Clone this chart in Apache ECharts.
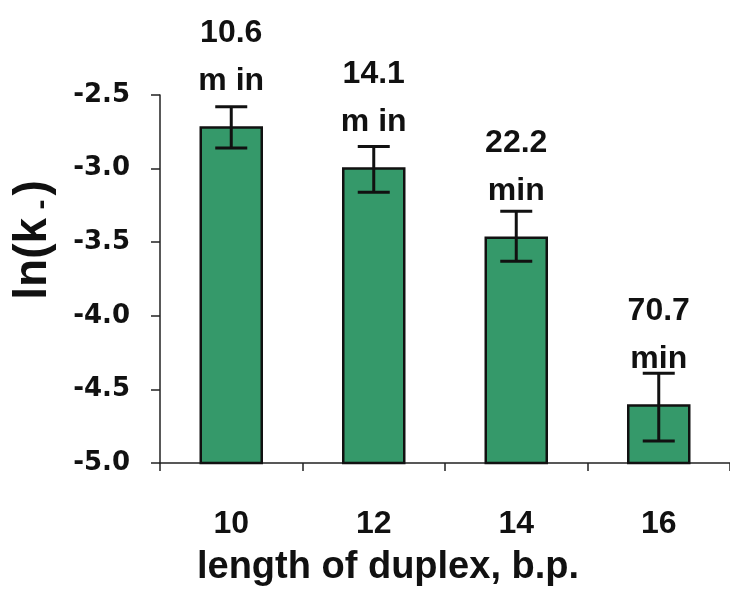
<!DOCTYPE html>
<html>
<head>
<meta charset="utf-8">
<script src="https://cdn.jsdelivr.net/npm/echarts@6/dist/echarts.min.js"></script>
<style>html,body{margin:0;padding:0;background:#fff}#c{width:730px;height:590px}</style>
</head>
<body>
<div id="c"></div>
<script>
var categories = ['10', '12', '14', '16'];
var values = [-2.72, -3.00, -3.47, -4.61];
var errHigh = [-2.58, -2.85, -3.29, -4.39];
var errLow = [-2.86, -3.16, -3.63, -4.85];
var timeLabels = ['10.6', '14.1', '22.2', '70.7'];
var unitLabels = ['m in', 'm in', 'min', 'min'];
var yTicks = [-5.0, -4.5, -4.0, -3.5, -3.0, -2.5];
var yMin = yTicks[0], yMax = yTicks[yTicks.length - 1];

var chart = echarts.init(document.getElementById('c'), null, {renderer: 'canvas'});
var barData = categories.map(function (c, i) { return [i, values[i]]; });
var errData = categories.map(function (c, i) { return [i, errLow[i], errHigh[i]]; });

chart.setOption({
  animation: false,
  backgroundColor: '#fff',
  grid: {left: 160, top: 95, width: 580, height: 368, containLabel: false},
  xAxis: {
    type: 'category',
    data: categories,
    boundaryGap: true,
    axisLine: {lineStyle: {color: '#222', width: 1.5}},
    axisTick: {show: true, length: 8, alignWithLabel: false, lineStyle: {color: '#222', width: 1.5}},
    axisLabel: {margin: 45, fontFamily: 'Liberation Sans', fontWeight: 'bold', fontSize: 32, color: '#111'}
  },
  yAxis: {
    type: 'value',
    min: yMin, max: yMax, interval: 0.5,
    splitLine: {show: false},
    axisLine: {show: true, lineStyle: {color: '#222', width: 1.5}},
    axisTick: {show: true, length: 9, lineStyle: {color: '#222', width: 1.5}},
    axisLabel: {margin: 30, fontFamily: 'DejaVu Sans', fontWeight: 'bold', fontSize: 26, color: '#111',
      formatter: function (v) { return v.toFixed(1); }}
  },
  graphic: [
    {type: 'text', x: 388, y: 568, style: {text: 'length of duplex, b.p.', fontFamily: 'Liberation Sans', fontWeight: 'bold', fontSize: 38, fill: '#111', textAlign: 'center', textVerticalAlign: 'middle'}},
    {type: 'text', x: 33, y: 240, rotation: Math.PI / 2, style: {
      text: '{a|ln(k}{b| -}{a|)}', textAlign: 'center', textVerticalAlign: 'middle', fill: '#111',
      rich: {
        a: {fontFamily: 'Liberation Sans', fontWeight: 'bold', fontSize: 46, fill: '#111'},
        b: {fontFamily: 'Liberation Sans', fontWeight: 'bold', fontSize: 30, fill: '#111', padding: [18, 4, 0, 0]}
      }}}
  ],
  series: [
    {
      type: 'custom',
      data: barData,
      z: 2,
      renderItem: function (params, api) {
        var i = api.value(0);
        var top = api.coord([i, api.value(1)]);
        var base = api.coord([i, yMin]);
        var w = 61;
        return {
          type: 'rect',
          shape: {x: top[0] - w / 2, y: top[1], width: w, height: base[1] - top[1]},
          style: {fill: '#35996a', stroke: '#111', lineWidth: 2.5},
          textContent: {
            type: 'text',
            style: {
              text: '{a|' + timeLabels[params.dataIndex] + '}\n{a|' + unitLabels[params.dataIndex] + '}',
              align: 'center',
              rich: {a: {fontFamily: 'Liberation Sans', fontWeight: 'bold', fontSize: 32, lineHeight: 48, fill: '#111', align: 'center'}}
            }
          },
          textConfig: {position: 'top', distance: 21}
        };
      }
    },
    {
      type: 'custom',
      data: errData,
      z: 5,
      renderItem: function (params, api) {
        var x = api.value(0);
        var lo = api.coord([x, api.value(1)]);
        var hi = api.coord([x, api.value(2)]);
        var hw = 16;
        var st = {stroke: '#111', lineWidth: 3};
        return {type: 'group', children: [
          {type: 'line', shape: {x1: lo[0], y1: lo[1], x2: hi[0], y2: hi[1]}, style: st},
          {type: 'line', shape: {x1: lo[0] - hw, y1: lo[1], x2: lo[0] + hw, y2: lo[1]}, style: st},
          {type: 'line', shape: {x1: hi[0] - hw, y1: hi[1], x2: hi[0] + hw, y2: hi[1]}, style: st}
        ]};
      }
    }
  ]
});
</script>
</body>
</html>
